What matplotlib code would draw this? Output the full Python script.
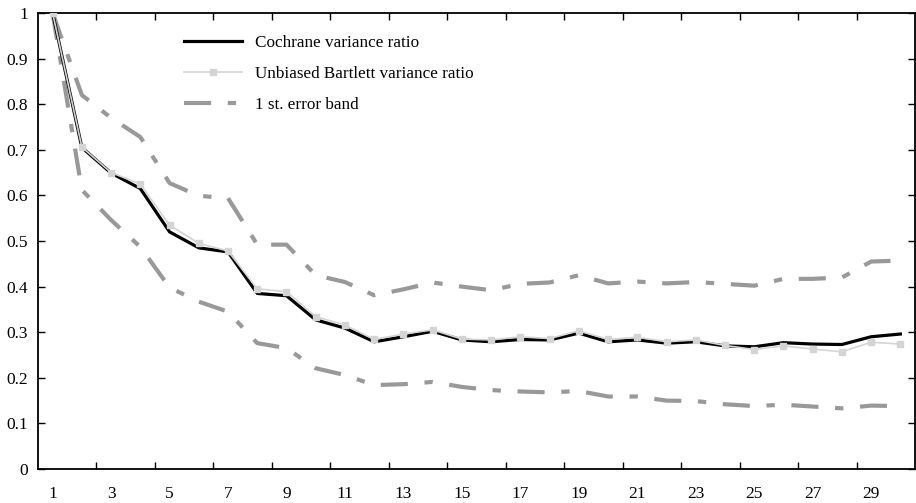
import matplotlib
matplotlib.use("Agg")
import matplotlib.pyplot as plt
import numpy as np

lags = list(range(1, 31))
cochrane = [1.0, 0.705, 0.649, 0.615, 0.52, 0.485, 0.476, 0.385, 0.38, 0.327,
            0.309, 0.279, 0.29, 0.302, 0.283, 0.279, 0.284, 0.283, 0.298, 0.279,
            0.283, 0.276, 0.279, 0.27, 0.268, 0.277, 0.274, 0.273, 0.29, 0.296]
bartlett = [1.0, 0.706, 0.65, 0.625, 0.535, 0.495, 0.478, 0.395, 0.389, 0.334,
            0.316, 0.284, 0.296, 0.305, 0.285, 0.283, 0.29, 0.286, 0.303, 0.284,
            0.289, 0.279, 0.283, 0.271, 0.262, 0.27, 0.263, 0.257, 0.278, 0.274]
upper = [1.0, 0.82, 0.77, 0.728, 0.627, 0.599, 0.594, 0.492, 0.492, 0.425,
         0.41, 0.381, 0.394, 0.409, 0.40, 0.392, 0.406, 0.409, 0.425, 0.407,
         0.411, 0.407, 0.41, 0.406, 0.402, 0.417, 0.417, 0.42, 0.455, 0.457]
lower = [1.0, 0.612, 0.546, 0.487, 0.398, 0.367, 0.345, 0.276, 0.265, 0.221,
         0.206, 0.184, 0.186, 0.191, 0.18, 0.173, 0.17, 0.168, 0.171, 0.159,
         0.159, 0.15, 0.149, 0.142, 0.138, 0.141, 0.137, 0.133, 0.139, 0.138]
xlabels = [str(v) for v in range(1, 30, 2)]
ylabels = ["0", "0.1", "0.2", "0.3", "0.4", "0.5", "0.6", "0.7", "0.8", "0.9", "1"]

plt.rcParams['font.family'] = ['Liberation Serif', 'DejaVu Serif']

fig = plt.figure(figsize=(9.16, 5.03), dpi=100)
ax = fig.add_axes([38/916, 34/503, (915-38)/916, (490-34)/503])

band_style = (0, (6.5, 4, 2, 4))
ax.plot(lags, upper, color='#999999', lw=3, linestyle=band_style,
        dash_capstyle='butt', label='1 st. error band', zorder=2)
ax.plot(lags, lower, color='#999999', lw=3, linestyle=band_style,
        dash_capstyle='butt', zorder=2)
ax.plot(lags, cochrane, color='black', lw=2.3, label='Cochrane variance ratio', zorder=3)
ax.plot(lags, bartlett, color='#d4d4d4', lw=1.2, marker='s', markersize=4.5,
        markeredgecolor='#d4d4d4', markerfacecolor='#d4d4d4',
        label='Unbiased Bartlett variance ratio', zorder=4)

ax.set_xlim(0.5, 30.5)
ax.set_ylim(0, 1)

ax.set_xticks(np.arange(2.5, 29, 2))
ax.set_xticklabels([])
ax.set_xticks(list(range(1, 30, 2)), minor=True)
ax.set_xticklabels(xlabels, minor=True)
ax.tick_params(axis='x', which='major', direction='in', length=5, width=1,
               top=True, bottom=True)
ax.tick_params(axis='x', which='minor', length=0, pad=12, labelsize=12.5)

ax.set_yticks(np.arange(0, 1.01, 0.1))
ax.set_yticklabels(ylabels)
ax.tick_params(axis='y', direction='in', length=5, width=1, left=True, right=True,
               pad=7, labelsize=12.5)

for s in ax.spines.values():
    s.set_linewidth(1.3)
    s.set_color('black')

handles, labels = ax.get_legend_handles_labels()
order = [1, 2, 0]
ax.legend([handles[i] for i in order], [labels[i] for i in order],
          loc='upper left', bbox_to_anchor=(0.149, 0.985), frameon=False,
          fontsize=12.3, handlelength=3.4, handletextpad=0.75, labelspacing=0.88)

fig.savefig('out.png', dpi=100)
